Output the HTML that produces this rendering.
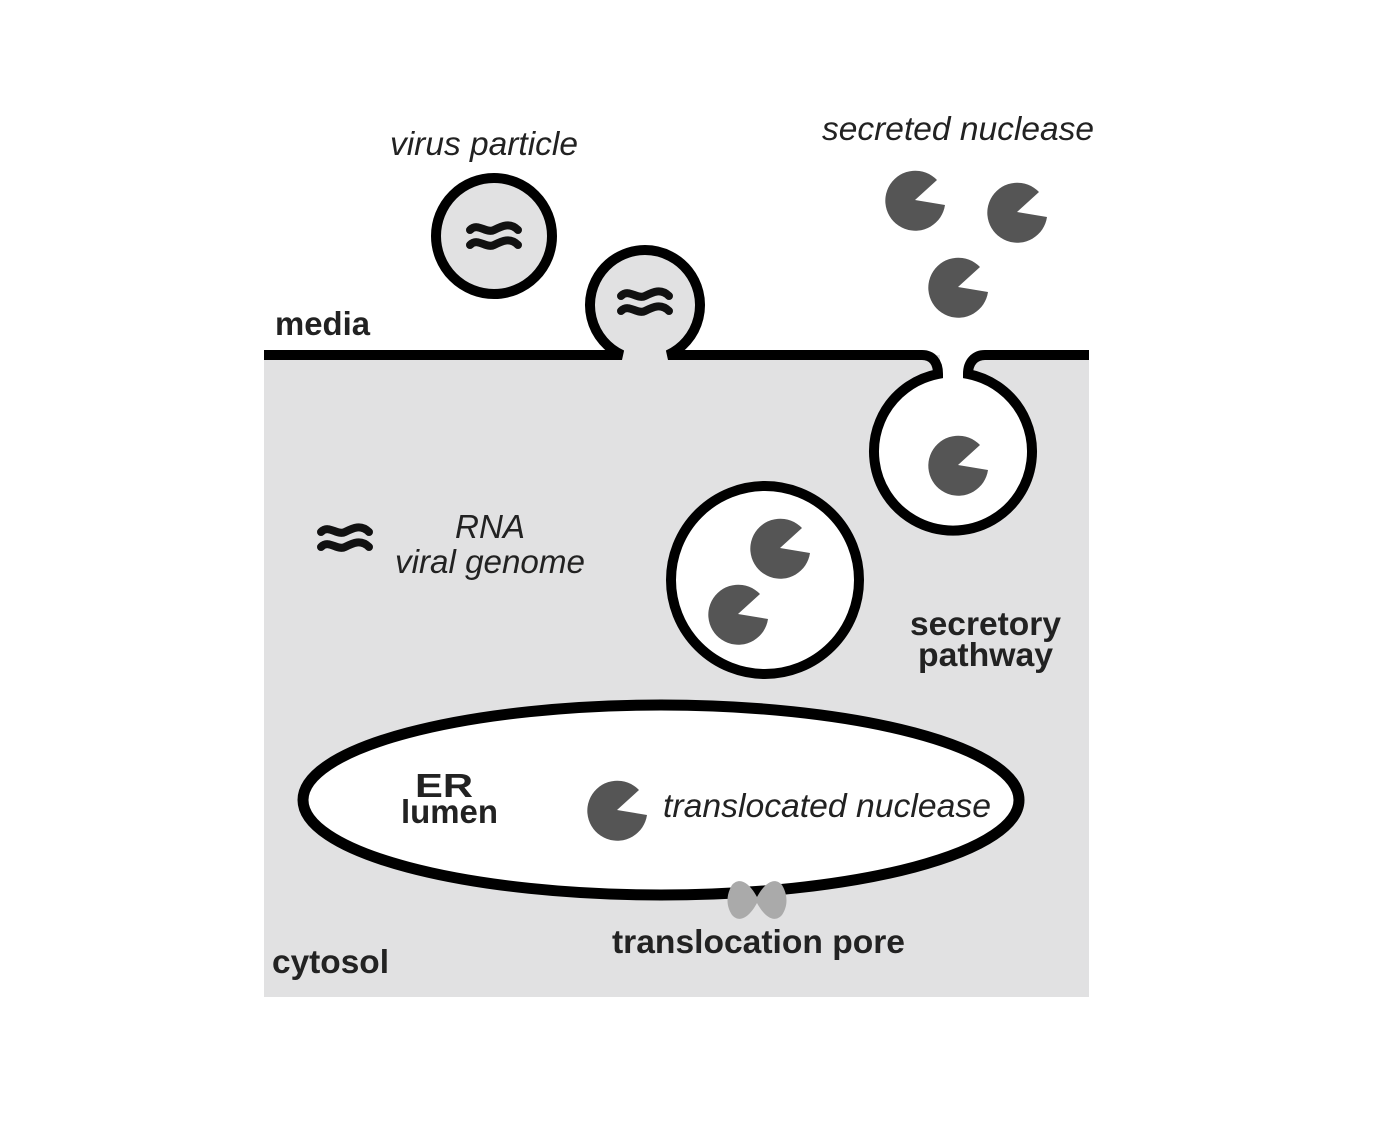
<!DOCTYPE html>
<html><head><style>body{margin:0;background:#fff}svg{display:block}</style></head>
<body>
<svg width="1400" height="1131" viewBox="0 0 1400 1131" xmlns="http://www.w3.org/2000/svg" font-family="Liberation Sans, Arial, sans-serif">
<defs>
<path id="pm" d="M0,0 L22,-20 A30,30 0 1 0 30,5 Z" fill="#555"/>
<g id="rna" fill="none" stroke="#111" stroke-width="8" stroke-linecap="round">
<path d="M-24,-6 C-16,-14 -8,-2 0,-6 C8,-10 16,-14 24,-6"/>
<path d="M-24,9 C-16,1 -8,13 0,9 C8,5 16,1 24,9"/>
</g>
</defs>
<rect x="264" y="355" width="825" height="642" fill="#e1e1e2"/>
<circle cx="645" cy="305" r="55" fill="#e1e1e2"/>
<circle cx="952" cy="450" r="79" fill="#fff"/>
<rect x="940" y="350" width="30" height="30" fill="#fff"/>
<path d="M264,355 L622,355 A55,55 0 1 1 668,355 L922,355 C932,355 938,362 938,374 A79,79 0 1 0 968,374 C968,362 975,355 985,355 L1089,355" fill="none" stroke="#000" stroke-width="10"/>
<circle cx="494" cy="236" r="58" fill="#e1e1e2" stroke="#000" stroke-width="10"/>
<use href="#rna" x="494" y="236"/>
<use href="#rna" x="645" y="302"/>
<use href="#rna" x="345" y="538"/>
<circle cx="765" cy="580" r="94" fill="#fff" stroke="#000" stroke-width="10"/>
<ellipse cx="661" cy="800" rx="358" ry="95" fill="#fff" stroke="#000" stroke-width="11"/>
<path d="M732,885 C740,876 750,884 757,897 C764,884 774,876 782,885 C788,895 788,906 782,915 C774,924 764,916 757,903 C750,916 740,924 732,915 C726,906 726,895 732,885 Z" fill="#aaa"/>
<use href="#pm" x="915" y="200"/>
<use href="#pm" x="1017" y="212"/>
<use href="#pm" x="958" y="287"/>
<use href="#pm" x="958" y="465"/>
<use href="#pm" x="780" y="548"/>
<use href="#pm" x="738" y="614"/>
<use href="#pm" x="617" y="810"/>
<g fill="#222" font-size="33">
<text x="390" y="155" font-style="italic" textLength="188" lengthAdjust="spacingAndGlyphs">virus particle</text>
<text x="822" y="140" font-style="italic" textLength="272" lengthAdjust="spacingAndGlyphs">secreted nuclease</text>
<text x="275" y="335" font-weight="bold" textLength="95" lengthAdjust="spacingAndGlyphs">media</text>
<text x="455" y="538" font-style="italic" textLength="70" lengthAdjust="spacingAndGlyphs">RNA</text>
<text x="395" y="573" font-style="italic" textLength="190" lengthAdjust="spacingAndGlyphs">viral genome</text>
<text x="910" y="635" font-weight="bold" textLength="151" lengthAdjust="spacingAndGlyphs">secretory</text>
<text x="918" y="666" font-weight="bold" textLength="135" lengthAdjust="spacingAndGlyphs">pathway</text>
<text x="415" y="797" font-weight="bold" textLength="58" lengthAdjust="spacingAndGlyphs">ER</text>
<text x="401" y="823" font-weight="bold" textLength="97" lengthAdjust="spacingAndGlyphs">lumen</text>
<text x="663" y="817" font-style="italic" textLength="328" lengthAdjust="spacingAndGlyphs">translocated nuclease</text>
<text x="612" y="953" font-weight="bold" textLength="293" lengthAdjust="spacingAndGlyphs">translocation pore</text>
<text x="272" y="973" font-weight="bold" textLength="117" lengthAdjust="spacingAndGlyphs">cytosol</text>
</g>
</svg>
</body></html>
